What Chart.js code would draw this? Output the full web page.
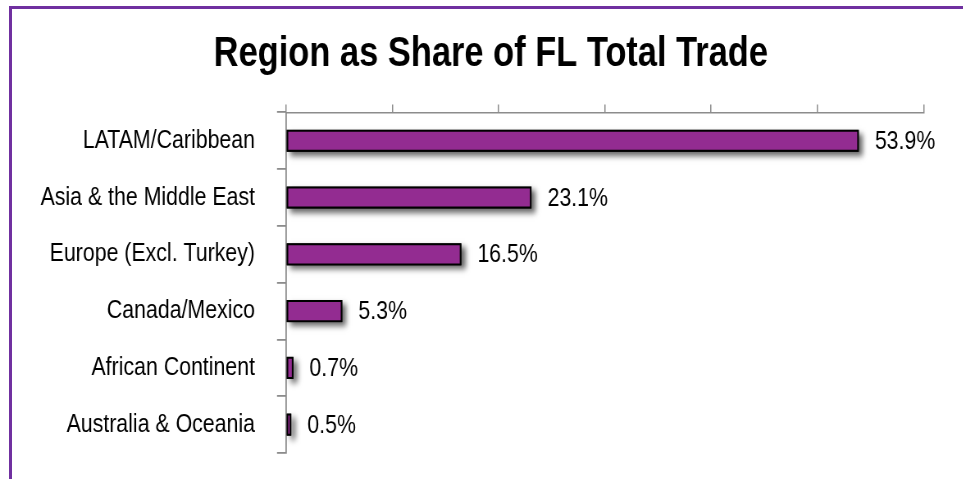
<!DOCTYPE html>
<html>
<head>
<meta charset="utf-8">
<script src="https://cdn.jsdelivr.net/npm/chart.js@4"></script>
<style>
    body { margin: 0; background: #fff; }
    #wrap { position: relative; width: 963px; height: 479px; overflow: hidden; }
    #frame { position: absolute; left: 9px; top: 6px; width: 1000px; height: 600px;
             border-left: 3px solid #7030A0; border-top: 3px solid #7030A0; }
    /* Arial Narrow is not installed: draw wide with Liberation Sans and squeeze horizontally */
    #squeeze { position: absolute; left: 0; top: 0; transform: scaleX(0.82); transform-origin: 0 0; }
</style>
</head>
<body>
<div id="wrap">
    <div id="frame"></div>
    <div id="squeeze"><canvas id="tradeChart" width="1174" height="479"></canvas></div>
</div>
<script>
// Chart data
const regions = ['LATAM/Caribbean', 'Asia & the Middle East', 'Europe (Excl. Turkey)', 'Canada/Mexico', 'African Continent', 'Australia & Oceania'];
const shares = [53.9, 23.1, 16.5, 5.3, 0.7, 0.5];
const axisMin = 0;
const axisMax = 60;
const axisStep = 10;

const squeeze = 0.82;
const fontFamily = "'Liberation Sans', Arial, sans-serif";

// bar element clips its own drawing, so cast the shadow from a rect drawn underneath
const barExtras = {
    id: 'barExtras',
    afterLayout(chart) {
        // y labels are wider than the axis box (title needs the extra left padding), don't clip them
        chart.scales.y.left = 0;
    },
    beforeDatasetDraw(chart) {
        const ctx = chart.ctx;
        ctx.save();
        ctx.shadowColor = 'rgba(0,0,0,0.6)';
        ctx.shadowBlur = 6;
        ctx.shadowOffsetX = 4 / squeeze;
        ctx.shadowOffsetY = 4;
        ctx.fillStyle = '#000';
        chart.getDatasetMeta(0).data.forEach(bar => {
            const p = bar.getProps(['x', 'y', 'base', 'height'], true);
            ctx.fillRect(p.base, p.y - p.height / 2, p.x - p.base, p.height);
        });
        ctx.restore();
    },
    afterDatasetDraw(chart) {
        const ctx = chart.ctx;
        ctx.save();
        ctx.font = '26px ' + fontFamily;
        ctx.fillStyle = '#000';
        ctx.textBaseline = 'middle';
        ctx.textAlign = 'left';
        chart.getDatasetMeta(0).data.forEach((bar, i) => {
            ctx.fillText(shares[i].toFixed(1) + '%', bar.x + 16 / squeeze, bar.y + 1);
        });
        ctx.restore();
    }
};

const ctx = document.getElementById('tradeChart').getContext('2d');
new Chart(ctx, {
    type: 'bar',
    data: {
        labels: regions,
        datasets: [{
            data: shares,
            backgroundColor: '#932C91',
            borderColor: '#000',
            borderWidth: 2,
            borderSkipped: false,
            barPercentage: 0.39,
            categoryPercentage: 1
        }]
    },
    options: {
        indexAxis: 'y',
        responsive: false,
        animation: false,
        layout: { padding: { left: 58 / squeeze, right: 39 / squeeze, top: 10, bottom: 26 } },
        plugins: {
            legend: { display: false },
            tooltip: { enabled: false },
            title: {
                display: true,
                text: 'Region as Share of FL Total Trade',
                color: '#000',
                font: { family: fontFamily, size: 42, weight: 'bold', lineHeight: 1.2 },
                padding: { top: 19, bottom: 6 }
            }
        },
        scales: {
            x: {
                position: 'top',
                min: axisMin,
                max: axisMax,
                ticks: { stepSize: axisStep, display: false },
                grid: { drawOnChartArea: false, drawTicks: true, tickLength: 8, color: '#8c8c8c', lineWidth: 1.5 },
                border: { display: true, color: '#8c8c8c', width: 1.5 },
                afterFit(scale) { scale.height = 27; scale.paddingLeft = 0; scale.paddingRight = 0; }
            },
            y: {
                ticks: { color: '#000', padding: 22 / squeeze, font: { family: fontFamily, size: 26 } },
                grid: { drawOnChartArea: false, drawTicks: true, tickLength: 9 / squeeze, color: '#8c8c8c', lineWidth: 1.8 },
                border: { display: true, color: '#8c8c8c', width: 1.8 },
                afterFit(scale) { scale.width = 228 / squeeze; scale.paddingTop = 0; scale.paddingBottom = 0; }
            }
        }
    },
    plugins: [barExtras]
});
</script>
</body>
</html>
